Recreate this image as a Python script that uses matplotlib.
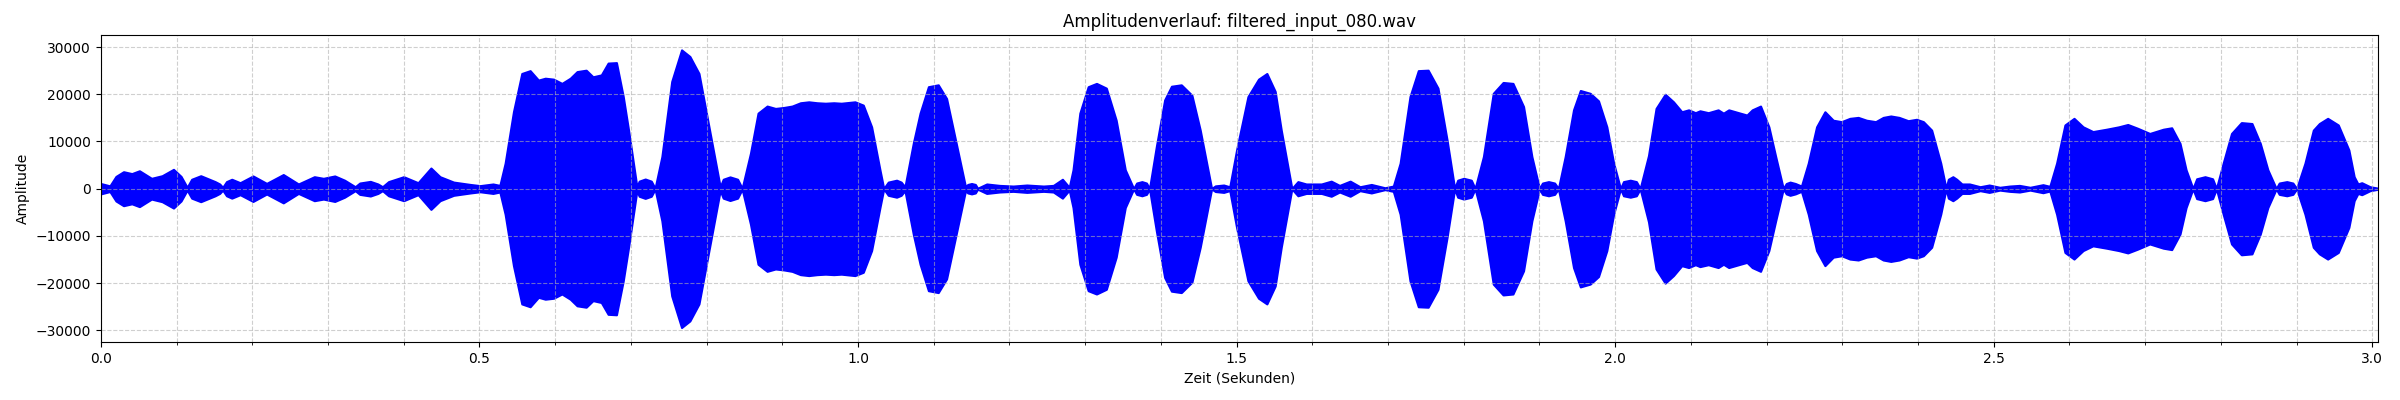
import numpy as np
import matplotlib
matplotlib.use("Agg")
import matplotlib.pyplot as plt
from matplotlib.ticker import MultipleLocator

# Huellkurve des Signals, Zeit in Sekunden
zeit = [0.000, 0.012, 0.020, 0.030, 0.041, 0.051, 0.067, 0.081, 0.096, 0.106,
        0.114, 0.120, 0.132, 0.151, 0.157, 0.161, 0.166, 0.173, 0.184, 0.201,
        0.219, 0.241, 0.261, 0.282, 0.294, 0.309, 0.322, 0.336, 0.342, 0.356,
        0.366, 0.372, 0.380, 0.400, 0.419, 0.436, 0.448, 0.466, 0.488, 0.501,
        0.518, 0.527, 0.534, 0.545, 0.556, 0.567, 0.578, 0.587, 0.598, 0.609,
        0.620, 0.629, 0.641, 0.650, 0.661, 0.670, 0.681, 0.690, 0.697, 0.708,
        0.711, 0.719, 0.727, 0.732, 0.741, 0.754, 0.767, 0.778, 0.790, 0.804,
        0.818, 0.822, 0.831, 0.841, 0.847, 0.858, 0.868, 0.880, 0.891, 0.902,
        0.913, 0.924, 0.935, 0.946, 0.957, 0.968, 0.978, 0.996, 1.007, 1.018,
        1.029, 1.034, 1.040, 1.051, 1.057, 1.062, 1.073, 1.082, 1.093, 1.106,
        1.117, 1.126, 1.142, 1.145, 1.150, 1.155, 1.158, 1.170, 1.187, 1.205,
        1.223, 1.245, 1.258, 1.270, 1.279, 1.284, 1.293, 1.304, 1.315, 1.328,
        1.341, 1.353, 1.364, 1.368, 1.375, 1.381, 1.385, 1.394, 1.405, 1.414,
        1.427, 1.441, 1.452, 1.467, 1.472, 1.483, 1.491, 1.500, 1.515, 1.529,
        1.540, 1.551, 1.559, 1.573, 1.581, 1.592, 1.612, 1.625, 1.636, 1.650,
        1.663, 1.678, 1.696, 1.707, 1.716, 1.729, 1.740, 1.753, 1.766, 1.778,
        1.788, 1.792, 1.800, 1.810, 1.815, 1.826, 1.839, 1.852, 1.865, 1.879,
        1.890, 1.900, 1.904, 1.912, 1.920, 1.925, 1.934, 1.945, 1.954, 1.967,
        1.978, 1.989, 1.998, 2.007, 2.011, 2.020, 2.028, 2.033, 2.044, 2.054,
        2.066, 2.077, 2.088, 2.097, 2.106, 2.112, 2.123, 2.136, 2.143, 2.150,
        2.163, 2.174, 2.181, 2.192, 2.203, 2.212, 2.222, 2.226, 2.231, 2.238,
        2.246, 2.255, 2.266, 2.277, 2.288, 2.299, 2.310, 2.321, 2.332, 2.344,
        2.354, 2.364, 2.375, 2.387, 2.398, 2.407, 2.418, 2.430, 2.437, 2.440,
        2.446, 2.451, 2.458, 2.468, 2.482, 2.494, 2.508, 2.521, 2.534, 2.548,
        2.565, 2.574, 2.583, 2.594, 2.606, 2.618, 2.631, 2.649, 2.665, 2.677,
        2.690, 2.706, 2.724, 2.735, 2.746, 2.754, 2.763, 2.768, 2.779, 2.789,
        2.794, 2.803, 2.814, 2.827, 2.841, 2.852, 2.862, 2.873, 2.877, 2.887,
        2.895, 2.900, 2.911, 2.922, 2.930, 2.941, 2.955, 2.969, 2.976, 2.981,
        2.986, 2.997, 3.008]

huelle = [1100, 600, 2600, 3600, 3200, 3800, 2200, 2750, 4100, 2600,
          300, 2000, 2750, 1500, 1000, 300, 1500, 2000, 1270, 2700,
          1130, 3000, 1000, 2540, 2200, 2700, 1800, 420, 1200, 1550,
          1000, 420, 1500, 2540, 1270, 4380, 2540, 1400, 900, 650,
          1000, 700, 5400, 16300, 24400, 25000, 23000, 23400, 23200, 22300,
          23400, 24800, 25100, 23700, 24100, 26600, 26700, 19500, 12400, 400,
          1600, 2050, 1600, 100, 6800, 22700, 29400, 28000, 24400, 12400,
          400, 2000, 2500, 2000, 100, 7500, 16000, 17500, 17000, 17200,
          17500, 18200, 18400, 18200, 18100, 18200, 18100, 18400, 17700, 13100,
          4000, 50, 1400, 1800, 1400, 400, 9600, 16000, 21600, 22000,
          19100, 12400, 400, 900, 1100, 900, 100, 1000, 700, 560,
          780, 560, 700, 2000, 300, 4000, 16000, 21600, 22300, 21300,
          14500, 4000, 50, 1200, 1500, 1200, 50, 8900, 18800, 21700,
          22000, 19800, 12400, 50, 600, 780, 400, 8200, 19500, 23200,
          24400, 20600, 12400, 50, 1500, 1000, 1000, 1600, 700, 1600,
          420, 900, 200, 560, 5400, 19500, 25000, 25100, 21300, 10300,
          50, 1800, 2200, 1800, 50, 6800, 20200, 22500, 22300, 17400,
          6800, 50, 1200, 1500, 1200, 50, 6800, 16700, 20800, 20200,
          18600, 13100, 5400, 50, 1500, 1800, 1500, 50, 7000, 17000,
          20000, 18400, 16300, 16700, 16100, 16500, 16100, 16700, 16000, 16700,
          16100, 15600, 16700, 17500, 13100, 6800, 50, 1100, 1400, 1100,
          560, 5400, 13100, 16300, 14500, 14200, 14900, 15100, 14500, 14200,
          15100, 15400, 15100, 14400, 14700, 14200, 12400, 5400, 50, 2000,
          2540, 2000, 1000, 1000, 420, 780, 300, 560, 700, 300,
          850, 500, 5400, 13500, 14900, 13100, 12100, 12600, 13100, 13600,
          12800, 11700, 12600, 12900, 9600, 4000, 50, 2100, 2540, 2100,
          50, 5400, 11700, 14000, 13800, 9600, 4000, 50, 1200, 1500,
          1200, 50, 5400, 12400, 13800, 14900, 13500, 8200, 2540, 1000,
          1270, 420, 100]

dateiname = "filtered_input_080.wav"

t = np.array(zeit)
amp = np.array(huelle)

fig, ax = plt.subplots(figsize=(24, 4), dpi=100)
ax.fill_between(t, -amp, amp, color='blue', edgecolor='blue', linewidth=1.5)

ax.set_title("Amplitudenverlauf: " + dateiname)
ax.set_xlabel("Zeit (Sekunden)")
ax.set_ylabel("Amplitude")

ax.set_xlim(0, t[-1])
ax.set_ylim(-32550, 32550)
ax.xaxis.set_minor_locator(MultipleLocator(0.1))
ax.grid(True, which='both', linestyle='--', alpha=0.6)

plt.subplots_adjust(left=0.042, right=0.991, top=0.9125, bottom=0.144)
plt.savefig("out.png", dpi=100)
